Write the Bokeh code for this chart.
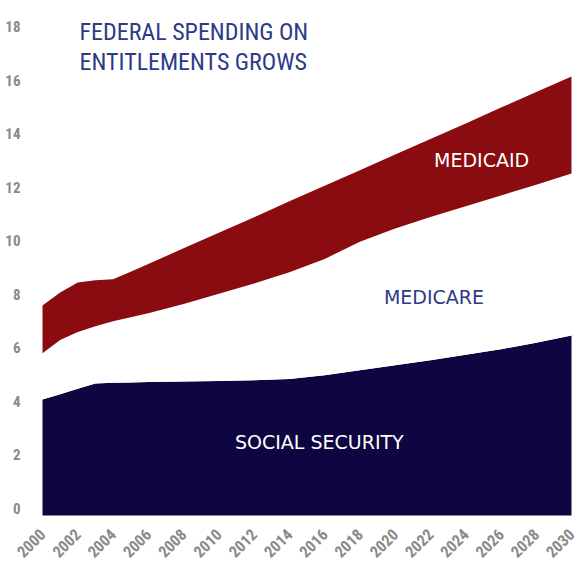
import math
from bokeh.plotting import figure
from bokeh.models import FixedTicker, Range1d, ColumnDataSource, LinearAxis
from bokeh.core.properties import value
from bokeh.embed import file_html
from bokeh.resources import INLINE

years = [2000, 2001, 2002, 2003, 2004, 2005, 2006, 2008, 2010, 2012, 2014,
         2016, 2018, 2020, 2022, 2024, 2026, 2028, 2030]
social_security = [4.33, 4.53, 4.73, 4.93, 4.96, 4.97, 4.98, 5.00, 5.02, 5.05, 5.10,
                   5.24, 5.42, 5.61, 5.80, 6.00, 6.21, 6.45, 6.72]
medicare = [1.73, 2.02, 2.12, 2.14, 2.29, 2.43, 2.57, 2.90, 3.26, 3.61, 3.98,
            4.34, 4.80, 5.11, 5.35, 5.55, 5.74, 5.90, 6.05]
medicaid = [1.78, 1.78, 1.85, 1.71, 1.57, 1.70, 1.84, 2.08, 2.28, 2.48, 2.65,
            2.73, 2.67, 2.76, 2.91, 3.09, 3.28, 3.46, 3.62]

x_ticks = list(range(2000, 2031, 2))
y_ticks = list(range(0, 19, 2))
title_lines = ["FEDERAL SPENDING ON", "ENTITLEMENTS GROWS"]

NAVY = "#0d0640"
RED = "#8b0c10"
BLUE = "#2e3a87"
GRAY = "#8a8a8a"
COND = "Liberation Sans Narrow, Roboto Condensed, Roboto"

X_START, X_END = 1997.618, 2030.567   # room left of 2000 for the value labels
Y_START, Y_END = -1.718, 19.23        # room under zero for the year labels
LABEL_LIFT = 0.26  # value labels sit slightly above their value

src = ColumnDataSource(dict(year=years, ss=social_security, mc=medicare, md=medicaid))

p = figure(width=581, height=561, output_backend="svg", toolbar_location=None,
           x_range=Range1d(X_START, X_END), y_range=Range1d(Y_START, Y_END),
           y_axis_location=None,
           min_border_left=0, min_border_right=0, min_border_top=0, min_border_bottom=0)
p.extra_y_ranges = {"lab": Range1d(Y_START - LABEL_LIFT, Y_END - LABEL_LIFT)}
yax = LinearAxis(y_range_name="lab", fixed_location=2000)
p.add_layout(yax, "left")

p.outline_line_color = None
p.background_fill_color = "white"
p.border_fill_color = "white"
p.grid.visible = False

p.varea_stack(stackers=["ss", "mc", "md"], x="year", color=[NAVY, "white", RED], source=src)

for ax in (p.xaxis[0], yax):
    ax.axis_line_color = None
    ax.major_tick_line_color = None
    ax.minor_tick_line_color = None
    ax.major_label_text_color = GRAY
    ax.major_label_text_font = COND
    ax.major_label_text_font_style = "bold"

yax.ticker = FixedTicker(ticks=y_ticks)
yax.major_label_standoff = 16
yax.major_label_text_font_size = "15px"
p.xaxis.ticker = FixedTicker(ticks=x_ticks)
p.xaxis.fixed_location = 0
p.xaxis.major_label_orientation = math.pi / 4
p.xaxis.major_label_standoff = 10
p.xaxis.major_label_text_font_size = "16px"

# title
p.text(x=[2002.1, 2002.1], y=[18.07, 16.95], text=title_lines,
       text_font=value(COND), text_font_size="24px", text_color=BLUE,
       text_baseline="alphabetic", text_align="left")

# series labels
lab_font = value("DejaVu Sans")
p.text(x=[2015.7], y=[2.76], text=["SOCIAL SECURITY"], text_font=lab_font,
       text_font_size="19px", text_color="white", text_align="center", text_baseline="middle")
p.text(x=[2022.2], y=[8.14], text=["MEDICARE"], text_font=lab_font,
       text_font_size="19px", text_color=BLUE, text_align="center", text_baseline="middle")
p.text(x=[2024.9], y=[13.26], text=["MEDICAID"], text_font=lab_font,
       text_font_size="19px", text_color="white", text_align="center", text_baseline="middle")

open("out.html", "w").write(file_html(p, INLINE))
